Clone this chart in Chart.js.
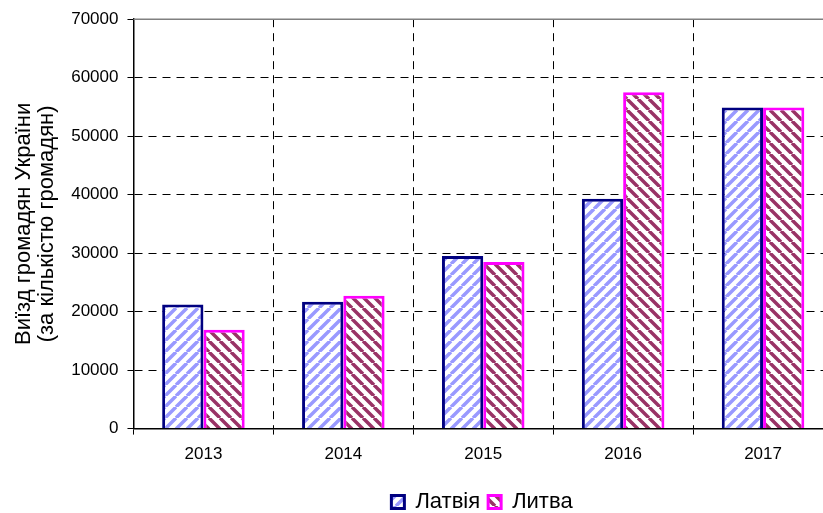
<!DOCTYPE html>
<html>
<head>
<meta charset="utf-8">
<script src="https://cdn.jsdelivr.net/npm/chart.js@4"></script>
<style>
  html, body { margin: 0; padding: 0; background: #fff; overflow: hidden; }
  #wrap { width: 960px; height: 513px; }
</style>
</head>
<body>
<div id="wrap"><canvas id="grafico" width="960" height="513"></canvas></div>
<script>
// dados do grafico
const anos = ['2013', '2014', '2015', '2016', '2017'];
const latvia = [21200, 21700, 29500, 39300, 54900];
const lithuania = [16900, 22700, 28500, 57500, 54900];
const yTicks = [0, 10000, 20000, 30000, 40000, 50000, 60000, 70000];

const fonte = 'Liberation Sans, Arial, sans-serif';

// hachura diagonal
function criaHachura(corLinha, direita) {
    const tam = 11;
    const c = document.createElement('canvas');
    c.width = tam;
    c.height = tam;
    const g = c.getContext('2d');
    g.fillStyle = '#ffffff';
    g.fillRect(0, 0, tam, tam);
    g.strokeStyle = corLinha;
    g.lineWidth = 3.5;
    g.beginPath();
    for (let k = -1; k <= 1; k++) {
        if (direita) {
            g.moveTo(k * tam, tam);
            g.lineTo(k * tam + tam, 0);
        } else {
            g.moveTo(k * tam, 0);
            g.lineTo(k * tam + tam, tam);
        }
    }
    g.stroke();
    return g.createPattern(c, 'repeat');
}

const ctx = document.getElementById('grafico').getContext('2d');

// linha cinza no topo da area do grafico
const bordaTopo = {
    id: 'bordaTopo',
    beforeDatasetsDraw(chart) {
        const a = chart.chartArea;
        const c = chart.ctx;
        c.save();
        c.strokeStyle = '#808080';
        c.lineWidth = 1.5;
        c.beginPath();
        c.moveTo(a.left, a.top);
        c.lineTo(a.right, a.top);
        c.stroke();
        c.restore();
    }
};

// legenda centralizada na largura toda do canvas
const centraLegenda = {
    id: 'centraLegenda',
    afterLayout(chart) {
        if (chart.legend) {
            chart.legend.left = 2;
            chart.legend.right = chart.width + 2;
        }
    }
};

new Chart(ctx, {
    type: 'bar',
    data: {
        labels: anos,
        datasets: [
            {
                label: 'Латвія',
                data: latvia,
                backgroundColor: criaHachura('#9999ff', true),
                borderColor: '#000080',
                borderWidth: 3
            },
            {
                label: 'Литва',
                data: lithuania,
                backgroundColor: criaHachura('#993366', false),
                borderColor: '#ff00ff',
                borderWidth: 3
            }
        ]
    },
    options: {
        responsive: false,
        animation: false,
        devicePixelRatio: 1,
        categoryPercentage: 0.59,
        barPercentage: 1,
        layout: { padding: { left: 12, right: 127, top: 17, bottom: -10 } },
        plugins: {
            tooltip: { enabled: false },
            legend: {
                position: 'bottom',
                title: { display: true, text: '', padding: 0, font: { size: 8, lineHeight: 1 } },
                labels: {
                    boxWidth: 13,
                    boxHeight: 13,
                    padding: 8,
                    color: '#000',
                    font: { family: fonte, size: 22 }
                }
            }
        },
        scales: {
            x: {
                grid: {
                    offset: true,
                    color: '#000',
                    lineWidth: 1,
                    tickLength: 6,
                    tickColor: '#000'
                },
                border: { display: true, color: '#000', width: 1.5, dash: [8, 6] },
                ticks: {
                    color: '#000',
                    padding: 10,
                    font: { family: fonte, size: 17 }
                }
            },
            y: {
                min: 0,
                max: 70000,
                afterBuildTicks(axis) {
                    axis.ticks = yTicks.map(v => ({ value: v }));
                },
                grid: {
                    color: ctx => (ctx.tick && ctx.tick.value === 70000) ? 'rgba(0,0,0,0)' : '#000',
                    lineWidth: 1,
                    tickLength: 6,
                    tickColor: '#000'
                },
                border: { display: true, color: '#000', width: 1.5, dash: [8, 6] },
                ticks: {
                    color: '#000',
                    padding: 9,
                    callback: v => String(v),
                    font: { family: fonte, size: 17 }
                },
                title: {
                    display: true,
                    text: ['Виїзд громадян України', '(за кількістю громадян)'],
                    color: '#000',
                    padding: { top: 0, bottom: 4 },
                    font: { family: fonte, size: 22, lineHeight: 1.05 }
                }
            }
        }
    },
    plugins: [bordaTopo, centraLegenda]
});
</script>
</body>
</html>
